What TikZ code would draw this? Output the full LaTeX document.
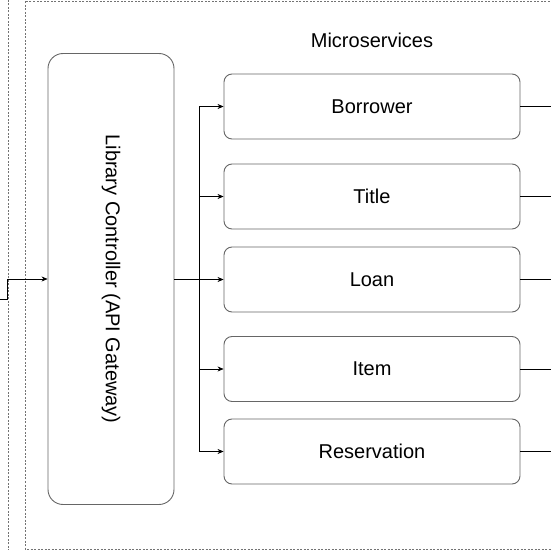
\documentclass[tikz,border=0pt]{standalone}
\usepackage{fontspec}
\setmainfont{Liberation Sans}
\usetikzlibrary{arrows.meta}

\begin{document}
\begin{tikzpicture}[x=1pt,y=1pt,font=\fontsize{20}{24}\selectfont,
    svc/.style={draw=black!60,line width=0.9pt,rounded corners=8pt,minimum width=296pt,minimum height=65pt},
    gate/.style={draw=black!60,line width=0.9pt,rounded corners=15pt,minimum width=126pt,minimum height=451pt},
    frame/.style={draw=black!55,line width=0.6pt,dash pattern=on 2pt off 1.5pt},
    link/.style={line width=0.6pt,-{Stealth[length=6pt,width=5pt]}}]
  \useasboundingbox (0,0) rectangle (550,550);
  % dashed frames
  \draw[frame] (8,-5) -- (8,555);
  \draw[frame] (560,549) -- (25,549) -- (25,1) -- (560,1);
  \node (title) at (372,510) {Microservices};
  % gateway
  \node[gate] (gw) at (111,271) {};
  \node[rotate=-90] at (gw.center) {Library Controller (API Gateway)};
  \coordinate (in) at (-5,251);
  \draw[link] (in) -- (7,251) |- (gw.west);
  % services
  \coordinate (split) at (199,271);
  \draw[line width=0.6pt] (gw.east) -- (split);
  \foreach \y/\n/\t in {443.5/bor/Borrower,353.5/tit/Title,270.5/loa/Loan,181/ite/Item,98.5/res/Reservation} {
    \node[svc] (\n) at (372,\y) {\t};
    \draw[link] (split) |- (\n.west);
    \draw[line width=0.6pt] (\n.east) -- ++(40,0);
  }
\end{tikzpicture}
\end{document}
